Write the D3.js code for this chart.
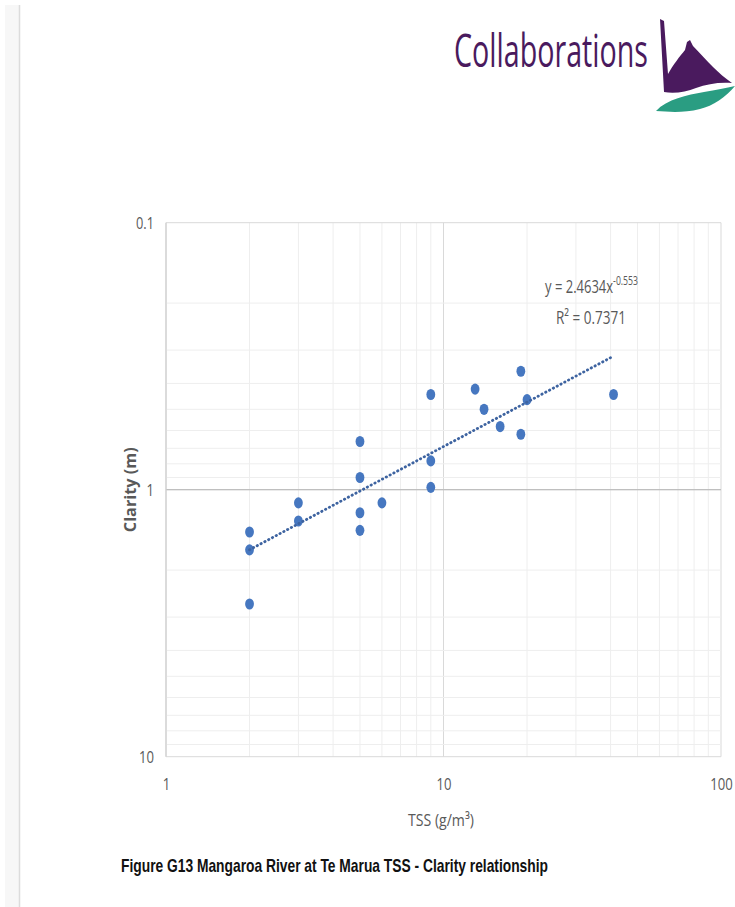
<!DOCTYPE html>
<html lang="en">
<head>
  <meta charset="utf-8">
  <title>Mangaroa River at Te Marua TSS - Clarity</title>
  <script src="https://cdn.jsdelivr.net/npm/d3@7"></script>
  <style>
    body { margin: 0; background: #fff; }
    .lbl { font-family: "Liberation Sans Narrow", "Open Sans", sans-serif; fill: #595959; }
  </style>
</head>
<body>
  <div id="chart"></div>

  <script>
    "use strict"
    // dados (TSS g/m3 x Clarity m)
    var tss = [2, 2, 2, 3, 3, 5, 5, 5, 5, 6, 9, 9, 9, 13, 14, 16, 19, 19, 20, 41];
    var clarity = [1.44, 1.68, 2.68, 1.12, 1.31, 0.66, 0.90, 1.22, 1.42, 1.12,
                   0.44, 0.78, 0.98, 0.42, 0.50, 0.58, 0.36, 0.62, 0.46, 0.44];
    var xTicks = [1, 10, 100];
    var yTicks = [0.1, 1, 10];
    // linha de tendencia: y = 2.4634x^-0.553
    var trendA = 2.4634, trendB = -0.553;

    var svg = d3.select('#chart').append('svg')
      .attr('width', 735).attr('height', 907);

    // faixa cinza na esquerda
    svg.append('rect').attr('x', 5).attr('y', 5).attr('width', 14).attr('height', 902).attr('fill', '#f7f7f7');
    svg.append('line').attr('x1', 19.5).attr('x2', 19.5).attr('y1', 5).attr('y2', 907)
      .attr('stroke', '#dcdcdc').attr('stroke-width', 1.5);

    // logo
    var logo = svg.append('g');
    logo.append('text')
      .attr('x', 454).attr('y', 67)
      .attr('textLength', 194).attr('lengthAdjust', 'spacingAndGlyphs')
      .style('font-family', '"Liberation Sans Narrow", "Open Sans", sans-serif')
      .style('font-size', '45px').attr('fill', '#4a1a5e')
      .text('Collaborations');
    logo.append('path')
      .attr('d', 'M660,19 L664,21 L668,74 C673,65 680,56 685,50 L687,42 L690,40 L693,46 C700,53 707,61 713,67 C719,73 725,78 732,83 C719,82 707,84 696,88 C686,92 674,94 664,92 Z')
      .attr('fill', '#4a1a5e');
    logo.append('path')
      .attr('d', 'M656,111 C667,99 687,95 704,92 C716,90 726,88 735,86 C726,97 713,106 700,109 C684,113 670,112 656,111 Z')
      .attr('fill', '#2a9d82');

    var x = d3.scaleLog().domain([1, 100]).range([166, 721]);
    var y = d3.scaleLog().domain([0.1, 10]).range([222.7, 756.7]);

    var grid = svg.append('g');
    // grade menor e maior
    grid.selectAll('.vminor').data(x.ticks()).enter().append('line')
      .attr('x1', d => x(d)).attr('x2', d => x(d))
      .attr('y1', y(0.1)).attr('y2', y(10))
      .attr('stroke', d => xTicks.indexOf(d) >= 0 ? '#d9d9d9' : '#eeeeee').attr('stroke-width', 1);
    grid.selectAll('.hminor').data(y.ticks()).enter().append('line')
      .attr('x1', x(1)).attr('x2', x(100))
      .attr('y1', d => y(d)).attr('y2', d => y(d))
      .attr('stroke', d => yTicks.indexOf(d) >= 0 ? '#d9d9d9' : '#eeeeee').attr('stroke-width', 1);
    // eixo horizontal cruza em 1
    svg.append('line').attr('x1', x(1)).attr('x2', x(100)).attr('y1', y(1)).attr('y2', y(1))
      .attr('stroke', '#bfbfbf').attr('stroke-width', 1.2);
    svg.append('line').attr('x1', x(1)).attr('x2', x(1)).attr('y1', y(0.1)).attr('y2', y(10))
      .attr('stroke', '#d0d0d0').attr('stroke-width', 1.2);

    // largura aproximada dos rotulos (fonte estreita do original)
    var labelWidth = d => String(d).replace('.', '').length * 7.5 + (String(d).indexOf('.') >= 0 ? 3 : 0);

    // eixos (so os rotulos)
    var ax = svg.append('g').attr('transform', 'translate(0,' + y(10) + ')')
      .call(d3.axisBottom(x).tickValues(xTicks).tickSize(0).tickPadding(21).tickFormat(d3.format('')));
    ax.select('.domain').remove();
    ax.selectAll('text').attr('class', 'lbl').style('font-size', '17px').attr('fill', '#595959')
      .attr('textLength', labelWidth).attr('lengthAdjust', 'spacingAndGlyphs');

    var ay = svg.append('g').attr('transform', 'translate(' + x(1) + ',0)')
      .call(d3.axisLeft(y).tickValues(yTicks).tickSize(0).tickPadding(12).tickFormat(d3.format('')));
    ay.select('.domain').remove();
    ay.selectAll('text').attr('class', 'lbl').style('font-size', '17px').attr('fill', '#595959')
      .attr('textLength', labelWidth).attr('lengthAdjust', 'spacingAndGlyphs');

    // pontos
    svg.append('g').selectAll('ellipse')
      .data(tss.map((t, i) => ({t: t, c: clarity[i]})))
      .enter().append('ellipse')
        .attr('cx', d => x(d.t)).attr('cy', d => y(d.c))
        .attr('rx', 4.4).attr('ry', 5.6)
        .attr('fill', '#4677c0');

    // tendencia
    var ext = d3.extent(tss);
    svg.append('path')
      .datum(ext)
      .attr('d', d3.line().x(d => x(d)).y(d => y(trendA * Math.pow(d, trendB))))
      .attr('fill', 'none').attr('stroke', '#3d63a0').attr('stroke-width', 2.8)
      .attr('stroke-linecap', 'round').attr('stroke-dasharray', '0.4 3.9');

    // equacao
    var eq = svg.append('text').attr('class', 'lbl').attr('x', 545).attr('y', 293)
      .attr('textLength', 93).attr('lengthAdjust', 'spacingAndGlyphs').style('font-size', '18px');
    eq.append('tspan').text('y = 2.4634x');
    eq.append('tspan').attr('dy', -8).style('font-size', '12px').text('-0.553');
    svg.append('text').attr('class', 'lbl').attr('x', 556).attr('y', 324)
      .attr('textLength', 70).attr('lengthAdjust', 'spacingAndGlyphs').style('font-size', '18px')
      .text('R² = 0.7371');

    // titulos dos eixos
    svg.append('text').attr('class', 'lbl')
      .attr('transform', 'translate(136,' + y(1) + ') rotate(-90)')
      .attr('text-anchor', 'middle').style('font-size', '16px').style('font-weight', 'bold')
      .attr('textLength', 85).attr('lengthAdjust', 'spacingAndGlyphs')
      .text('Clarity (m)');
    svg.append('text').attr('class', 'lbl')
      .attr('x', 441).attr('y', 826).attr('text-anchor', 'middle').style('font-size', '17px')
      .attr('textLength', 66).attr('lengthAdjust', 'spacingAndGlyphs')
      .text('TSS (g/m³)');

    // legenda da figura
    svg.append('text')
      .attr('x', 121).attr('y', 872)
      .attr('textLength', 427).attr('lengthAdjust', 'spacingAndGlyphs')
      .style('font-family', '"Liberation Sans Narrow", Arial, sans-serif')
      .style('font-size', '19px').style('font-weight', 'bold').attr('fill', '#111')
      .text('Figure G13 Mangaroa River at Te Marua TSS - Clarity relationship');
  </script>
</body>
</html>
